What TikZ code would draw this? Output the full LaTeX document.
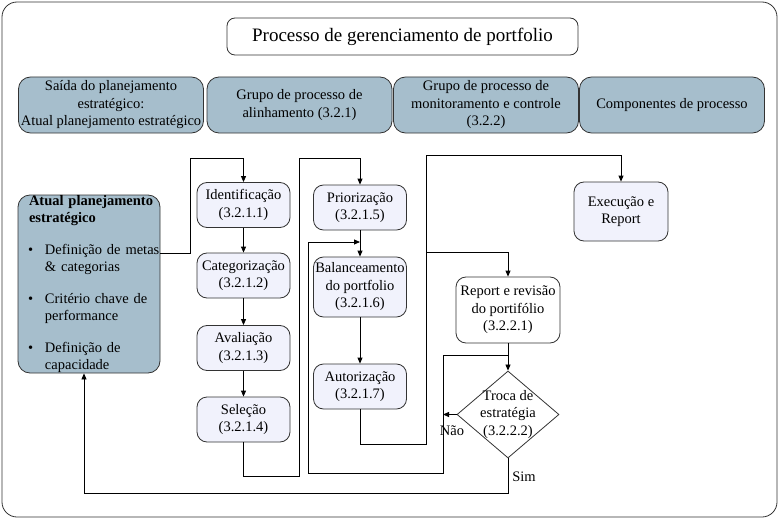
\documentclass[tikz,border=0pt]{standalone}
\usepackage{fontspec}
\setmainfont{Liberation Serif}
\usepackage{tikz}
\usetikzlibrary{arrows.meta, shapes.geometric}
\definecolor{hdrblue}{HTML}{A6BECC}
\definecolor{steplav}{HTML}{F1F2FC}
\definecolor{edgegray}{HTML}{333333}
\newcommand{\bodyfont}{\fontsize{14.5}{17.5}\selectfont}
\newcommand{\pad}{\hspace*{11pt}}
\newcommand{\bul}{\hspace*{10pt}\makebox[17pt][l]{\textbullet}}
\newcommand{\ind}{\hspace*{27pt}}

\begin{document}
\begin{tikzpicture}[
    x=1pt, y=-1pt,
    titlebox/.style={draw=edgegray, rounded corners=8pt, fill=white,
                     minimum width=351pt, minimum height=37pt,
                     font=\fontsize{19}{22}\selectfont},
    header/.style={draw=edgegray, rounded corners=12pt, fill=hdrblue,
                   minimum width=185pt, minimum height=56pt, inner sep=1pt,
                   align=center, font=\bodyfont},
    leftbox/.style={draw=edgegray, rounded corners=12pt, fill=hdrblue,
                    minimum width=142pt, minimum height=178pt, inner sep=0pt,
                    text width=142pt, align=left, font=\bodyfont},
    procbox/.style={draw=edgegray, rounded corners=10pt, fill=steplav,
                    minimum width=93pt, minimum height=45pt, inner sep=1pt,
                    align=center, font=\bodyfont},
    decision/.style={draw=edgegray, diamond, aspect=1.17, fill=white,
                     minimum width=102pt, minimum height=87pt, inner sep=-6pt,
                     align=center, font=\bodyfont},
    lbl/.style={inner sep=0pt, font=\bodyfont},
    >={Triangle[length=6pt,width=5pt]}, line width=0.8pt
  ]
    \useasboundingbox (0,0) rectangle (780,519);
    \draw[edgegray, rounded corners=15pt] (2,2) rectangle (777,517);

    \node[titlebox] (titulo) at (402.5,36.5)
      {Processo de gerenciamento de portfolio};

    \node[header] (hsaida) at (111,105)
      {Saída do planejamento\\estratégico:\\Atual planejamento estratégico};
    \node[header] (halinh) at (299.5,105)
      {Grupo de processo de\\alinhamento (3.2.1)};
    \node[header] (hmonit) at (486,105)
      {Grupo de processo de\\monitoramento e controle\\(3.2.2)};
    \node[header] (hcomp) at (672,105)
      {Componentes de processo};

    \node[leftbox] (atual) at (89,284)
      {\pad\textbf{Atual planejamento}\\
       \pad\textbf{estratégico}\\[14pt]
       \bul Definição de metas\\
       \ind\& categorias\\[14pt]
       \bul Critério chave de\\
       \ind performance\\[14pt]
       \bul Definição de\\
       \ind capacidade};

    \node[procbox] (ident) at (243.5,205) {Identificação\\(3.2.1.1)};
    \node[procbox] (categ) at (243.5,275.5) {Categorização\\(3.2.1.2)};
    \node[procbox] (aval) at (243.5,348) {Avaliação\\(3.2.1.3)};
    \node[procbox] (selec) at (243.5,419.5) {Seleção\\(3.2.1.4)};
    \node[procbox] (prior) at (360,207.5) {Priorização\\(3.2.1.5)};
    \node[procbox, minimum height=60pt] (balanc) at (360,287)
      {Balanceamento\\do portfolio\\(3.2.1.6)};
    \node[procbox] (autor) at (360,386.5) {Autorização\\(3.2.1.7)};
    \node[procbox, minimum width=94pt, minimum height=59pt] (exec) at (621,211.5)
      {Execução e\\Report};
    \node[procbox, fill=white, minimum width=104pt, minimum height=66pt]
      (report) at (508,310) {Report e revisão\\do portifólio\\(3.2.2.1)};
    \node[decision] (troca) at (508,414.5) {Troca de\\estratégia\\(3.2.2.2)};

    \node[lbl] (nao) at (452,431) {Não};
    \node[lbl] (sim) at (524,477) {Sim};

    \coordinate (repjoin) at (report.south |- 0,355);
    \coordinate (repsplit) at (426,252);

    \draw[->] (atual.east |- 0,253) -| (190,158) -| (ident.north);
    \draw[->] (ident) -- (categ);
    \draw[->] (categ) -- (aval);
    \draw[->] (aval) -- (selec);
    \draw[->] (selec.south) |- (299,476) -- (299,158) -| (prior.north);
    \draw[->] (prior) -- (balanc);
    \draw[->] (balanc) -- (autor);
    \draw[->] (repjoin) -| (443,473) -| (308,242) -- (prior.south |- 0,242);
    \draw[->] (autor.south) |- (426,444) -- (426,155) -| (exec.north);
    \draw[->] (repsplit) -| (report.north);
    \draw[->] (report) -- (troca);
    \draw[->] (troca.west) -- (troca.west -| 443,0);
    \draw[->] (troca.south) |- (84,493) -- (atual.south -| 84,0);
  \end{tikzpicture}
\end{document}
